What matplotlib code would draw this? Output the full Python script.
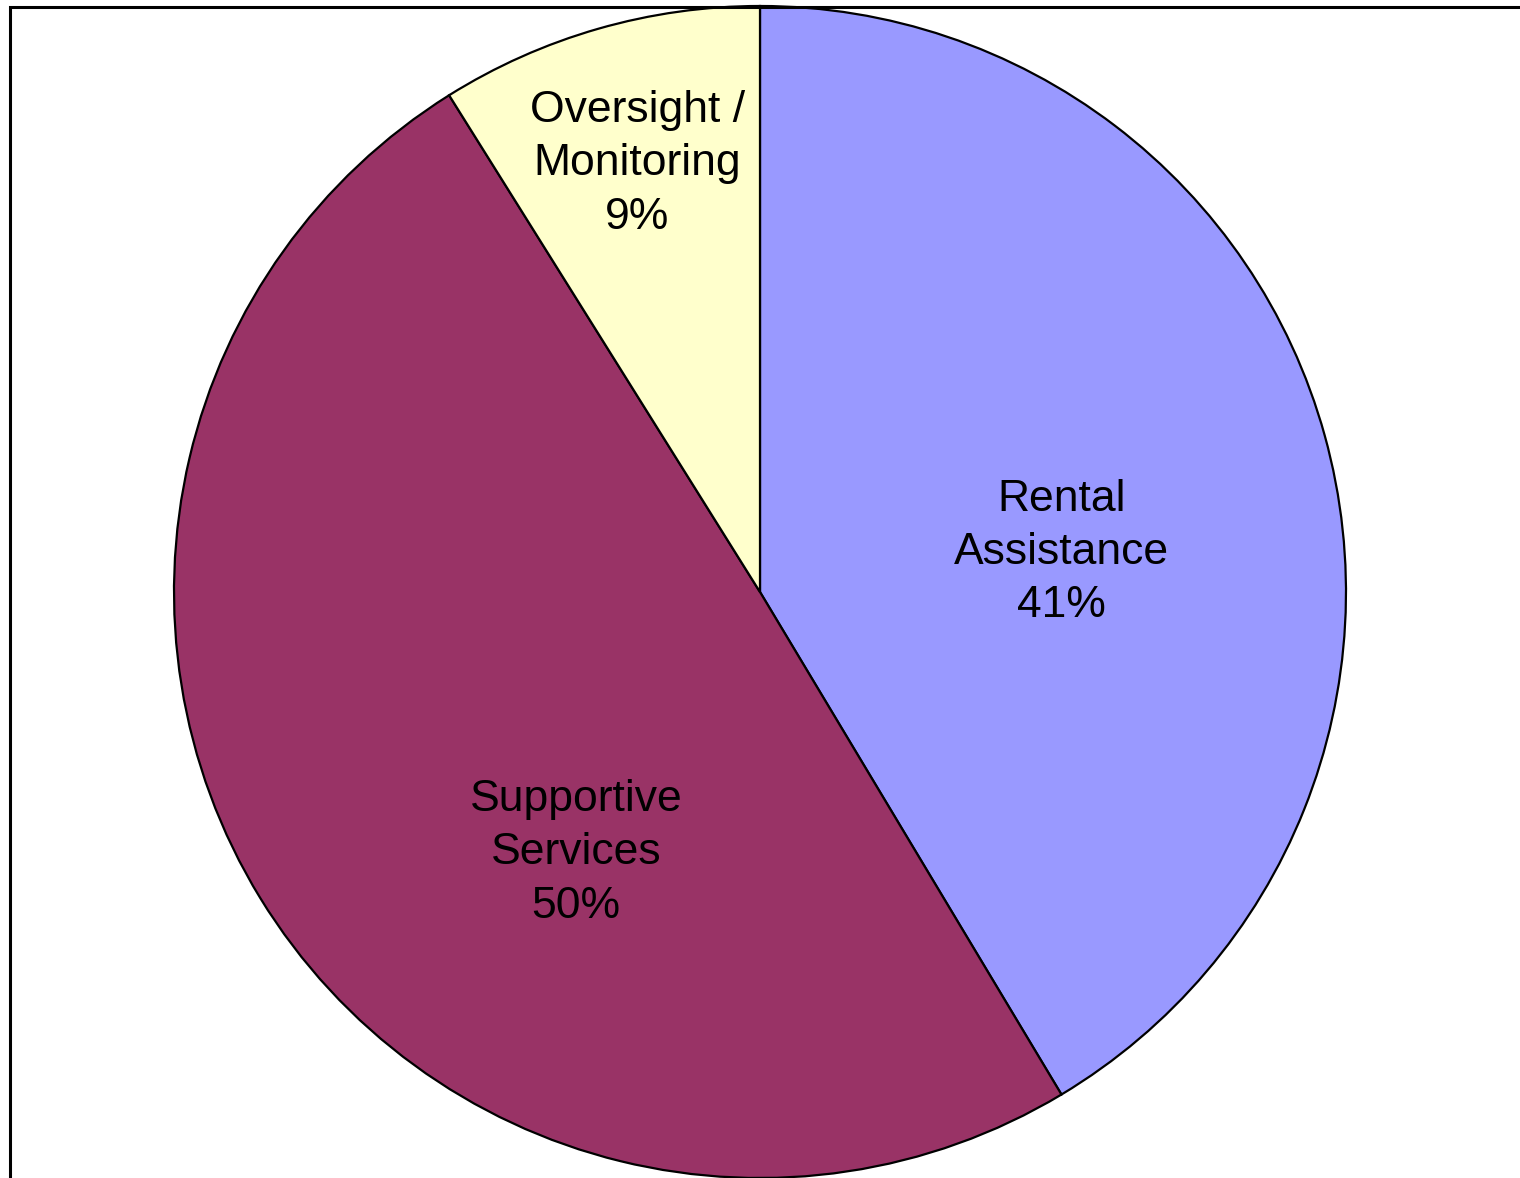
import numpy as np
import matplotlib.pyplot as plt
from matplotlib.patches import Rectangle

categories = ["Rental\nAssistance", "Supportive\nServices", "Oversight /\nMonitoring"]
shares = [41.4, 49.7, 8.9]
colors = ["#9999FF", "#993366", "#FFFFCC"]

# label anchors (radius fraction, angle deg) tuned to match the original layout
label_pos = [(0.519, 7.4), (0.545, -125.2), (0.76, 106.0)]

plt.rcParams["font.family"] = ["Liberation Sans", "DejaVu Sans"]

fig = plt.figure(figsize=(15.2, 11.78), dpi=100)
W, H = 1520, 1178
cx, cy, r = 760, 592, 586
ax = fig.add_axes([(cx - r) / W, (H - cy - r) / H, 2 * r / W, 2 * r / H])

wedges, _ = ax.pie(shares, colors=colors, startangle=90, counterclock=False,
                   wedgeprops=dict(edgecolor="black", linewidth=1.6))
ax.set_xlim(-1, 1)
ax.set_ylim(-1, 1)
ax.set_aspect("equal")
ax.axis("off")

total = sum(shares)
for name, val, (rad, ang) in zip(categories, shares, label_pos):
    t = np.deg2rad(ang)
    ax.text(rad * np.cos(t), rad * np.sin(t), f"{name}\n{val / total * 100:.0f}%",
            ha="center", va="center", fontsize=32, linespacing=1.38)

# chart area border (right and bottom fall outside the image)
fig.patches.append(Rectangle((10 / W, -0.1), 2, 1.1 - 7 / H, transform=fig.transFigure,
                             fill=False, edgecolor="black", linewidth=2.2))

fig.savefig("out.png", dpi=100)
